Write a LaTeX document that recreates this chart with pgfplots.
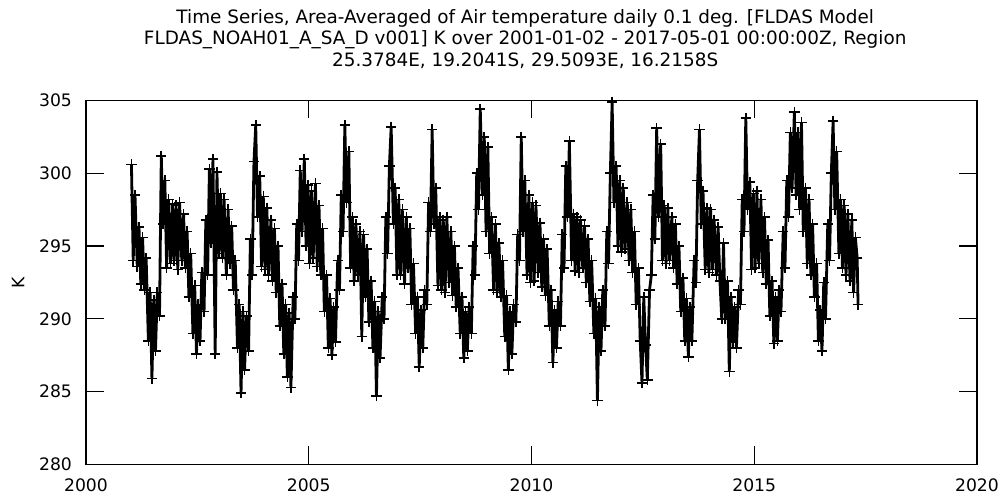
\documentclass[border=0pt]{standalone}
\usepackage{fontspec}
\setmainfont{DejaVu Sans}
\usepackage{pgfplots}
\pgfplotsset{compat=1.18}

\begin{document}
\begin{tikzpicture}
\begin{axis}[
    scale only axis, width=445.5pt, height=182pt,
    xmin=2000, xmax=2020, ymin=280, ymax=305,
    xtick={2000,2005,...,2020}, ytick={280,285,...,305},
    tick align=inside, major tick length=9pt,
    axis line style={line width=0.75pt},
    every tick/.style={black, line width=0.6pt},
    ticklabel style={font=\fontsize{8.6}{10}\selectfont},
    xticklabel style={yshift=-3.5pt},
    yticklabel style={xshift=-3.5pt},
    /pgf/number format/assume math mode=true,
    /pgf/number format/1000 sep={},
    ylabel={K},
    ylabel style={at={(rel axis cs:-0.0763,0.5)}, anchor=center, font=\fontsize{8.6}{10}\selectfont},
    clip=false,
]
\coordinate (sw) at (rel axis cs:0,0);
\node[anchor=base, font=\fontsize{9.2}{10}\selectfont] at (rel axis cs:0.493,1) [yshift=38.25pt]
  {Time Series, Area-Averaged of Air temperature daily 0.1 deg. [FLDAS Model};
\node[anchor=base, font=\fontsize{9.2}{10}\selectfont] at (rel axis cs:0.493,1) [yshift=27.75pt]
  {FLDAS\_NOAH01\_A\_SA\_D v001] K over 2001-01-02 - 2017-05-01 00:00:00Z, Region};
\node[anchor=base, font=\fontsize{9.2}{10}\selectfont] at (rel axis cs:0.493,1) [yshift=17pt]
  {25.3784E, 19.2041S, 29.5093E, 16.2158S};

% daily series, sampled about twice a month (high and low of the band)
\addplot[black, line width=1.4pt, mark=+, mark size=2.6pt,
         mark options={line width=0.8pt}] coordinates {
(2001.02,300.6) (2001.06,294.0) (2001.10,298.5) (2001.15,293.6) (2001.19,296.3) (2001.23,292.4) (2001.27,295.6) (2001.31,292.0) (2001.35,294.2) (2001.40,288.5) (2001.44,291.8) (2001.48,285.9) (2001.52,291.3) (2001.56,287.8) (2001.60,291.8) (2001.65,290.2) (2001.69,301.2) (2001.73,296.5) (2001.77,299.5) (2001.81,293.5) (2001.85,298.2) (2001.90,293.8) (2001.94,297.9) (2001.98,294.0)
(2002.02,297.8) (2002.06,293.4) (2002.10,298.0) (2002.15,294.0) (2002.19,297.2) (2002.23,293.5) (2002.27,296.0) (2002.31,291.5) (2002.35,294.5) (2002.40,289.0) (2002.44,292.3) (2002.48,287.6) (2002.52,291.0) (2002.56,288.5) (2002.60,293.2) (2002.65,290.5) (2002.69,296.8) (2002.73,293.0) (2002.77,300.3) (2002.81,295.2) (2002.85,301.0) (2002.90,287.6) (2002.94,300.1) (2002.98,294.5)
(2003.02,298.6) (2003.06,294.2) (2003.10,298.2) (2003.15,293.0) (2003.19,297.5) (2003.23,293.8) (2003.27,296.4) (2003.31,292.0) (2003.35,294.0) (2003.40,288.0) (2003.44,291.0) (2003.48,284.9) (2003.52,290.5) (2003.56,286.5) (2003.60,290.2) (2003.65,287.8) (2003.69,295.5) (2003.73,293.0) (2003.77,300.8) (2003.81,303.3) (2003.85,297.0) (2003.90,299.8) (2003.94,293.6) (2003.98,298.4)
(2004.02,293.4) (2004.06,297.6) (2004.10,293.0) (2004.15,296.8) (2004.19,292.6) (2004.23,296.2) (2004.27,291.8) (2004.31,295.0) (2004.35,289.5) (2004.40,292.4) (2004.44,287.6) (2004.48,291.0) (2004.52,286.0) (2004.56,290.4) (2004.60,285.3) (2004.65,291.5) (2004.69,290.0) (2004.73,296.5) (2004.77,294.0) (2004.81,300.2) (2004.85,296.0) (2004.90,301.0) (2004.94,295.0) (2004.98,299.2)
(2005.02,293.8) (2005.06,298.8) (2005.10,294.2) (2005.15,299.3) (2005.19,293.6) (2005.23,297.8) (2005.27,293.0) (2005.31,296.2) (2005.35,290.5) (2005.40,293.0) (2005.44,288.0) (2005.48,291.4) (2005.52,287.5) (2005.56,290.8) (2005.60,288.4) (2005.65,294.0) (2005.69,292.0) (2005.73,298.5) (2005.77,296.0) (2005.81,303.3) (2005.85,298.0) (2005.90,301.5) (2005.94,293.5) (2005.98,297.0)
(2006.02,292.6) (2006.06,296.5) (2006.10,293.0) (2006.15,296.0) (2006.19,288.8) (2006.23,295.8) (2006.27,291.5) (2006.31,294.8) (2006.35,289.8) (2006.40,292.6) (2006.44,288.0) (2006.48,291.2) (2006.52,284.7) (2006.56,290.5) (2006.60,287.3) (2006.65,291.5) (2006.69,290.0) (2006.73,297.0) (2006.77,294.5) (2006.81,300.5) (2006.85,303.2) (2006.90,296.5) (2006.94,299.0) (2006.98,293.0)
(2007.02,298.2) (2007.06,293.0) (2007.10,297.5) (2007.15,292.4) (2007.19,297.0) (2007.23,293.5) (2007.27,296.2) (2007.31,291.0) (2007.35,293.8) (2007.40,289.0) (2007.44,291.5) (2007.48,286.7) (2007.52,290.6) (2007.56,288.0) (2007.60,292.0) (2007.65,291.0) (2007.69,298.0) (2007.73,296.0) (2007.77,303.0) (2007.81,296.5) (2007.85,299.0) (2007.90,292.3) (2007.94,297.0) (2007.98,292.0)
(2008.02,296.8) (2008.06,291.8) (2008.10,297.0) (2008.15,292.5) (2008.19,296.0) (2008.23,291.6) (2008.27,295.0) (2008.31,290.8) (2008.35,293.5) (2008.40,289.0) (2008.44,291.5) (2008.48,287.3) (2008.52,290.5) (2008.56,287.8) (2008.60,290.8) (2008.65,289.0) (2008.69,295.0) (2008.73,293.0) (2008.77,300.0) (2008.81,297.5) (2008.85,304.4) (2008.90,298.5) (2008.94,302.5) (2008.98,296.0)
(2009.02,301.8) (2009.06,294.5) (2009.10,297.0) (2009.15,292.0) (2009.19,296.5) (2009.23,291.8) (2009.27,295.2) (2009.31,291.5) (2009.35,294.0) (2009.40,288.8) (2009.44,291.6) (2009.48,286.5) (2009.52,290.5) (2009.56,287.6) (2009.60,291.0) (2009.65,289.8) (2009.69,295.8) (2009.73,294.0) (2009.77,302.5) (2009.81,296.0) (2009.85,299.5) (2009.90,293.0) (2009.94,298.5) (2009.98,292.5)
(2010.02,298.0) (2010.06,292.6) (2010.10,297.8) (2010.15,293.2) (2010.19,296.6) (2010.23,292.2) (2010.27,295.5) (2010.31,291.6) (2010.35,294.8) (2010.40,289.5) (2010.44,292.0) (2010.48,287.0) (2010.52,290.6) (2010.56,288.0) (2010.60,291.2) (2010.65,289.5) (2010.69,295.8) (2010.73,293.5) (2010.77,300.5) (2010.81,297.0) (2010.85,302.2) (2010.90,294.0) (2010.94,297.2) (2010.98,293.3)
(2011.02,297.0) (2011.06,293.2) (2011.10,296.8) (2011.15,293.5) (2011.19,296.4) (2011.23,292.5) (2011.27,295.5) (2011.31,291.2) (2011.35,294.0) (2011.40,289.0) (2011.44,291.4) (2011.48,284.4) (2011.52,290.8) (2011.56,287.8) (2011.60,292.0) (2011.65,289.5) (2011.69,296.0) (2011.73,293.8) (2011.77,300.0) (2011.81,304.9) (2011.85,298.0) (2011.90,300.5) (2011.94,295.0) (2011.98,299.5)
(2012.02,294.6) (2012.06,299.0) (2012.10,294.8) (2012.15,298.0) (2012.19,294.0) (2012.23,297.5) (2012.27,293.2) (2012.31,296.0) (2012.35,291.0) (2012.40,293.5) (2012.44,288.5) (2012.48,285.6) (2012.52,291.5) (2012.56,288.2) (2012.60,285.8) (2012.65,292.0) (2012.69,293.0) (2012.73,298.5) (2012.77,295.5) (2012.81,303.1) (2012.85,297.0) (2012.90,302.0) (2012.94,294.0) (2012.98,297.8)
(2013.02,293.8) (2013.06,297.6) (2013.10,294.0) (2013.15,297.0) (2013.19,293.5) (2013.23,296.5) (2013.27,292.4) (2013.31,295.0) (2013.35,290.5) (2013.40,292.8) (2013.44,288.5) (2013.48,291.4) (2013.52,287.4) (2013.56,290.8) (2013.60,288.5) (2013.65,294.0) (2013.69,292.5) (2013.73,299.5) (2013.77,303.0) (2013.81,296.5) (2013.85,298.8) (2013.90,293.4) (2013.94,297.6) (2013.98,293.2)
(2014.02,297.5) (2014.06,293.4) (2014.10,296.8) (2014.15,293.0) (2014.19,296.3) (2014.23,292.6) (2014.27,290.0) (2014.31,295.2) (2014.35,290.0) (2014.40,292.6) (2014.44,286.4) (2014.48,291.5) (2014.52,288.4) (2014.56,290.8) (2014.60,288.0) (2014.65,292.0) (2014.69,291.0) (2014.73,298.2) (2014.77,296.0) (2014.81,303.8) (2014.85,297.5) (2014.90,299.4) (2014.94,293.4) (2014.98,298.6)
(2015.02,293.5) (2015.06,298.8) (2015.10,293.8) (2015.15,298.2) (2015.19,293.2) (2015.23,297.0) (2015.27,292.4) (2015.31,295.4) (2015.35,290.2) (2015.40,292.6) (2015.44,288.3) (2015.48,291.5) (2015.52,288.5) (2015.56,292.0) (2015.60,290.5) (2015.65,296.0) (2015.69,293.5) (2015.73,299.5) (2015.77,297.0) (2015.81,302.8) (2015.85,299.0) (2015.90,304.2) (2015.94,298.5) (2015.98,302.8)
(2016.02,297.5) (2016.06,303.5) (2016.10,296.0) (2016.15,299.0) (2016.19,293.8) (2016.23,298.2) (2016.27,293.0) (2016.31,296.5) (2016.35,291.5) (2016.40,293.8) (2016.44,288.5) (2016.48,290.6) (2016.52,287.8) (2016.56,292.5) (2016.60,290.0) (2016.65,296.5) (2016.69,294.0) (2016.73,300.0) (2016.77,303.6) (2016.81,297.5) (2016.85,301.5) (2016.90,294.5) (2016.94,298.2) (2016.98,293.5)
(2017.02,297.8) (2017.06,293.0) (2017.10,297.2) (2017.15,292.6) (2017.19,296.8) (2017.23,291.8) (2017.27,295.6) (2017.31,294.2) (2017.33,291.0)
};
\end{axis}
\pgfresetboundingbox
\path[use as bounding box] (sw) ++(-43pt,-16.25pt) rectangle ++(501.5pt,248.5pt);
\end{tikzpicture}
\end{document}
